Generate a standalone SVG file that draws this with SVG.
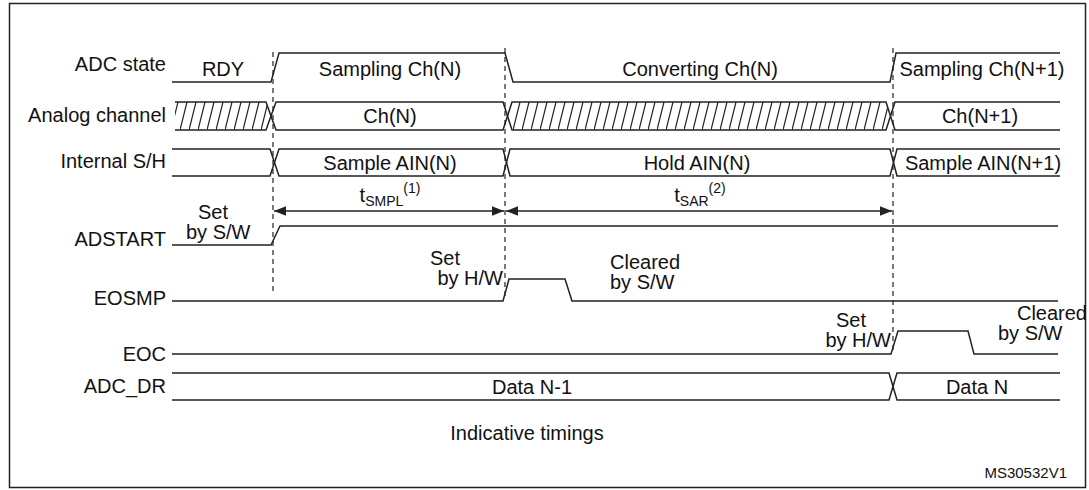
<svg xmlns="http://www.w3.org/2000/svg" width="1089" height="490" viewBox="0 0 1089 490">
<style>
.w{fill:none;stroke:#222;stroke-width:1.5}
.d{fill:none;stroke:#222;stroke-width:1.2;stroke-dasharray:5,4}
.t{font-family:"Liberation Sans",Arial,sans-serif;font-size:20px;fill:#111}
.s{font-size:14px}
.r{text-anchor:end}
.m{text-anchor:middle}
</style>
<defs>
<pattern id="h" width="9" height="28" patternUnits="userSpaceOnUse" patternTransform="translate(0,102)">
<line x1="0" y1="28" x2="7" y2="0" stroke="#222" stroke-width="1.2"/>
</pattern>
<marker id="a" viewBox="0 0 10 10" refX="10" refY="5" markerWidth="8" markerHeight="8" orient="auto-start-reverse"><path d="M0,1 L10,5 L0,9 Z" fill="#222"/></marker>
</defs>
<rect x="9.5" y="3.5" width="1076" height="484" fill="#fff" stroke="#222" stroke-width="1.5"/>
<g id="labels">
<text class="t r" x="166" y="71">ADC state</text>
<text class="t r" x="166" y="122">Analog channel</text>
<text class="t r" x="166" y="168">Internal S/H</text>
<text class="t r" x="166" y="246">ADSTART</text>
<text class="t r" x="166" y="305">EOSMP</text>
<text class="t r" x="166" y="361">EOC</text>
<text class="t r" x="166" y="393">ADC_DR</text>
</g>
<g id="dashes">
<line class="d" x1="273" y1="52" x2="273" y2="292"/>
<line class="d" x1="505" y1="48" x2="505" y2="300"/>
<line class="d" x1="893" y1="48" x2="893" y2="352"/>
</g>
<g id="adcstate">
<polyline class="w" points="172,82 271,82 279,53 505,53 513,82 890,82 896,53 1060,53"/>
<text class="t m" x="223" y="76">RDY</text>
<text class="t m" x="390" y="76">Sampling Ch(N)</text>
<text class="t m" x="700" y="76">Converting Ch(N)</text>
<text class="t m" x="982" y="76">Sampling Ch(N+1)</text>
</g>
<g id="analog">
<polygon points="175,102 266,102 271,116 266,130 175,130" fill="url(#h)"/>
<polygon points="512,102 886,102 890,116 886,130 512,130 508,116" fill="url(#h)"/>
<polyline class="w" points="175,102 266,102 276,130 503,130 512,102 886,102 895,130 1060,130"/>
<polyline class="w" points="175,130 266,130 276,102 503,102 512,130 886,130 895,102 1060,102"/>
<text class="t m" x="390" y="123">Ch(N)</text>
<text class="t m" x="980" y="123">Ch(N+1)</text>
</g>
<g id="sh">
<polyline class="w" points="172,149 270,149 279,176 503,176 510,149 890,149 897,176 1060,176"/>
<polyline class="w" points="172,176 270,176 279,149 503,149 510,176 890,176 897,149 1060,149"/>
<text class="t m" x="390" y="170">Sample AIN(N)</text>
<text class="t m" x="697" y="170">Hold AIN(N)</text>
<text class="t m" x="983" y="170">Sample AIN(N+1)</text>
</g>
<g id="timing">
<line class="w" x1="274" y1="211" x2="504" y2="211" marker-start="url(#a)" marker-end="url(#a)" stroke-width="1"/>
<line class="w" x1="506" y1="211" x2="892" y2="211" marker-start="url(#a)" marker-end="url(#a)" stroke-width="1"/>
<text class="t m" x="390" y="202">t<tspan class="s" dy="4">SMPL</tspan><tspan class="s" dy="-13">(1)</tspan></text>
<text class="t m" x="700" y="202">t<tspan class="s" dy="4">SAR</tspan><tspan class="s" dy="-13">(2)</tspan></text>
</g>
<g id="adstart">
<polyline class="w" points="172,245 271,245 280,226 1058,226"/>
<text class="t" x="198" y="219">Set</text>
<text class="t" x="186" y="239">by S/W</text>
</g>
<g id="eosmp">
<polyline class="w" points="172,301 503,301 509,279 565,279 572,301 1058,301"/>
<text class="t" x="430" y="265">Set</text>
<text class="t r" x="503" y="285">by H/W</text>
<text class="t" x="610" y="269">Cleared</text>
<text class="t" x="610" y="289">by S/W</text>
</g>
<g id="eoc">
<polyline class="w" points="172,354 891,354 898,331 968,331 974,354 1058,354"/>
<text class="t" x="836" y="327">Set</text>
<text class="t r" x="891" y="347">by H/W</text>
<text class="t r" x="1087" y="320">Cleared</text>
<text class="t" x="998" y="340">by S/W</text>
</g>
<g id="adcdr">
<polyline class="w" points="172,373 889,373 897,400 1060,400"/>
<polyline class="w" points="172,400 889,400 897,373 1060,373"/>
<text class="t m" x="532" y="394">Data N-1</text>
<text class="t m" x="977" y="394">Data N</text>
</g>
<text class="t m" x="527" y="440">Indicative timings</text>
<text class="t r" x="1067" y="478" style="font-size:15px">MS30532V1</text>
</svg>
